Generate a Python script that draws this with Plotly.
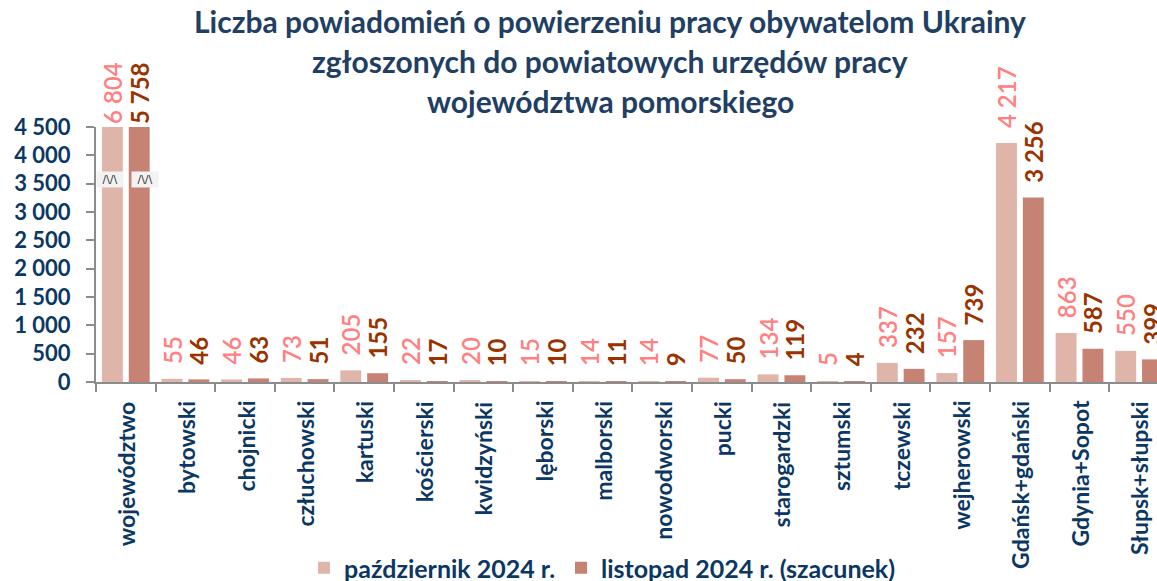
import numpy as np
import plotly.graph_objects as go

categories = ["województwo", "bytowski", "chojnicki", "człuchowski", "kartuski",
              "kościerski", "kwidzyński", "lęborski", "malborski", "nowodworski",
              "pucki", "starogardzki", "sztumski", "tczewski", "wejherowski",
              "Gdańsk+gdański", "Gdynia+Sopot", "Słupsk+słupski"]
october_2024 = [6804, 55, 46, 73, 205, 22, 20, 15, 14, 14, 77, 134, 5, 337, 157, 4217, 863, 550]
november_2024 = [5758, 46, 63, 51, 155, 17, 10, 10, 11, 9, 50, 119, 4, 232, 739, 3256, 587, 399]
series_names = ["październik 2024 r.", "listopad 2024 r. (szacunek)"]
y_ticks = [0, 500, 1000, 1500, 2000, 2500, 3000, 3500, 4000, 4500]
title_lines = ["Liczba powiadomień o powierzeniu pracy obywatelom Ukrainy",
               "zgłoszonych do powiatowych urzędów pracy",
               "województwa pomorskiego"]

Y_MAX = 4500
FONT = "Lato"
NAVY = "#0b3764"
TITLE_C = "#213e63"

L, R, T, B = 96, 0, 127, 199
W, H = 1157, 581
pw, ph = W - L - R, H - T - B


def px_x(x):
    return (x - L) / pw


def px_y(y):
    return (H - B - y) / ph


def fmt(v):
    return f"{v:,}".replace(",", " ")


def labels(vals):
    out = []
    for v in vals:
        if v > Y_MAX:
            out.append(fmt(v))
        else:
            out.append("\u00a0\u00a0" + fmt(v))
    return out


fig = go.Figure()
bar_colors = ["#dfb5aa", "#c68272"]
label_colors = ["#ff8080", "#993300"]
label_weights = [600, "bold"]
legend_ids = ["legend", "legend2"]
for name, vals, bc, lc, lw, lg in zip(series_names, [october_2024, november_2024],
                                      bar_colors, label_colors, label_weights, legend_ids):
    fig.add_trace(go.Bar(
        x=categories,
        y=np.minimum(np.array(vals), Y_MAX),
        name=name,
        legend=lg,
        marker=dict(color=bc, line=dict(width=0)),
        text=labels(vals),
        textposition="outside",
        textangle=-90,
        cliponaxis=False,
        constraintext="none",
        outsidetextfont=dict(family=FONT, size=24, color=lc, weight=lw),
        hoverinfo="skip",
    ))

# axis-break markers on the capped bars
for xo in (-0.257, 0.322):
    fig.add_annotation(x=xo, y=3565, xref="x", yref="y", text="/\\/\\",
                       showarrow=False, bgcolor="#f2f2f2", width=24, height=13,
                       font=dict(family="DejaVu Sans", size=11, color="#333333"))

# category labels (rotated)
for c in categories:
    fig.add_annotation(x=c, y=0, xref="x", yref="paper", text=c,
                       showarrow=False, textangle=-90, xanchor="center", yanchor="top",
                       yshift=-17,
                       font=dict(family=FONT, size=23, color=NAVY, weight="bold"))

for i, line in enumerate(title_lines):
    fig.add_annotation(x=px_x(610), y=px_y(21 + 40 * i), xref="paper", yref="paper",
                       text=line, showarrow=False, xanchor="center", yanchor="middle",
                       font=dict(family=FONT, size=30, color=TITLE_C, weight="bold"))

legend_font = dict(family=FONT, size=25, color=NAVY, weight="bold")
fig.update_layout(
    width=W, height=H,
    margin=dict(l=L, r=R, t=T, b=B, pad=0, autoexpand=False),
    paper_bgcolor="white", plot_bgcolor="white",
    barmode="group", bargap=0.1, bargroupgap=0.22,
    separators=", ",
    showlegend=True,
    legend=dict(orientation="h", x=px_x(304), xanchor="left",
                y=px_y(568), yanchor="middle", font=legend_font,
                bgcolor="rgba(0,0,0,0)"),
    legend2=dict(orientation="h", x=px_x(561), xanchor="left",
                 y=px_y(568), yanchor="middle", font=legend_font,
                 bgcolor="rgba(0,0,0,0)"),
    font=dict(family=FONT),
)
fig.update_xaxes(
    type="category", range=[-0.5, 17.30], automargin=False,
    showline=True, linecolor="#8c8c8c", linewidth=2,
    ticks="outside", tickson="boundaries", ticklen=8, tickcolor="#8c8c8c", tickwidth=2,
    showticklabels=False,
    showgrid=False, zeroline=False,
)
fig.update_yaxes(
    range=[0, Y_MAX], tickvals=y_ticks, tickformat=",d", automargin=False,
    showline=True, linecolor="#8c8c8c", linewidth=2,
    ticks="outside", ticklen=8, tickcolor="#8c8c8c", tickwidth=2,
    ticklabelstandoff=11,
    tickfont=dict(family=FONT, size=22, color=NAVY, weight="bold"),
    showgrid=False, zeroline=False,
)

fig.write_html("out.html",
               config={"displayModeBar": False},
               post_script="document.body.style.margin='0px';"
                           "document.body.style.overflow='hidden';")
